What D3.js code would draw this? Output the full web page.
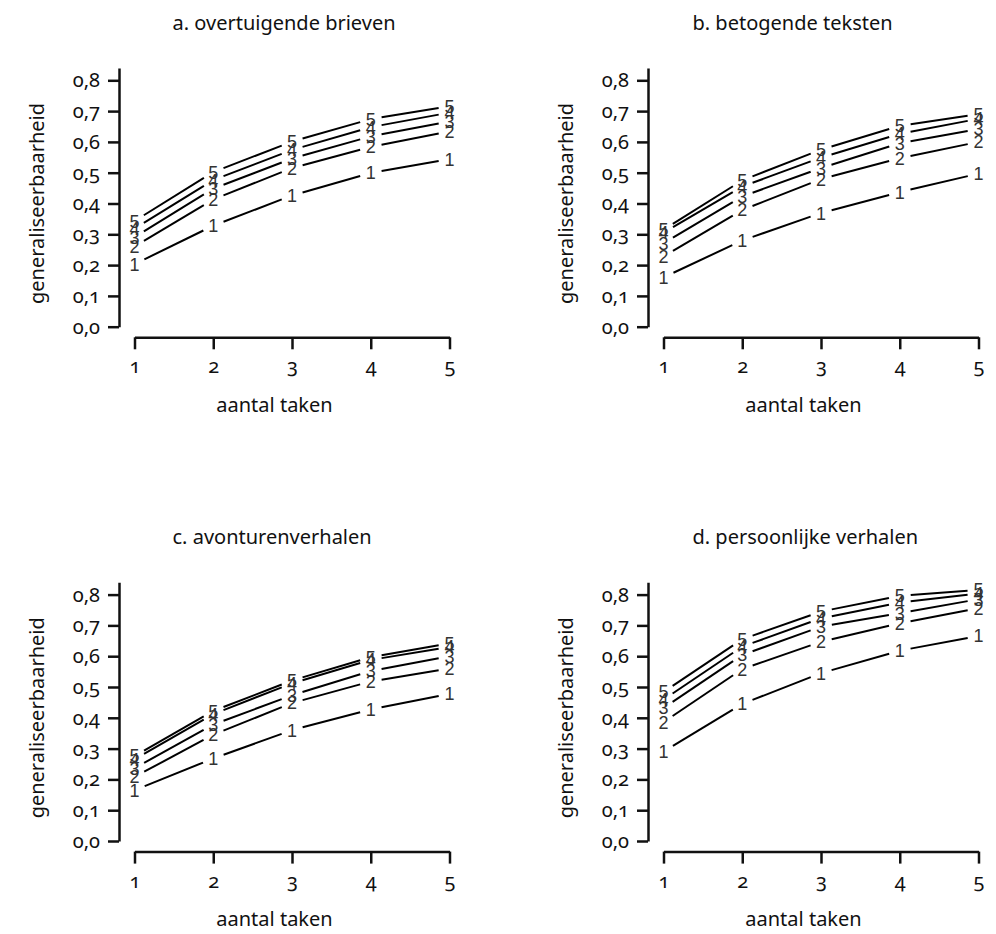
<!DOCTYPE html>
<html>
<head>
<meta charset="utf-8">
<script src="https://cdn.jsdelivr.net/npm/d3@7"></script>
<style>
    body { margin: 0; background: #fff; }
    svg { display: block; }
</style>
</head>
<body>
<script>
// aantal taken (x) en aantal beoordelaars (de cijfers bij de punten)
const taken = [1, 2, 3, 4, 5];
const beoordelaars = ["1", "2", "3", "4", "5"];
const titels = ["a. overtuigende brieven", "b. betogende teksten", "c. avonturenverhalen", "d. persoonlijke verhalen"];
const yTicks = [0, 0.1, 0.2, 0.3, 0.4, 0.5, 0.6, 0.7, 0.8];
const yTickLabels = ["0,0", "0,1", "0,2", "0,3", "0,4", "0,5", "0,6", "0,7", "0,8"];
const xTickLabels = ["1", "2", "3", "4", "5"];

// generaliseerbaarheid per aantal beoordelaars (rij) en aantal taken (kolom)
const brieven = [
    [0.203, 0.328, 0.426, 0.499, 0.544],
    [0.260, 0.413, 0.515, 0.584, 0.634],
    [0.291, 0.448, 0.546, 0.618, 0.666],
    [0.318, 0.476, 0.574, 0.648, 0.695],
    [0.343, 0.502, 0.601, 0.674, 0.716]
];
const betogend = [
    [0.160, 0.280, 0.369, 0.437, 0.497],
    [0.228, 0.379, 0.479, 0.547, 0.600],
    [0.271, 0.423, 0.515, 0.596, 0.642],
    [0.305, 0.455, 0.549, 0.626, 0.675],
    [0.315, 0.475, 0.575, 0.652, 0.690]
];
const avontuur = [
    [0.165, 0.268, 0.360, 0.427, 0.478],
    [0.208, 0.345, 0.448, 0.518, 0.560],
    [0.236, 0.378, 0.473, 0.552, 0.600],
    [0.265, 0.412, 0.512, 0.588, 0.630],
    [0.276, 0.422, 0.521, 0.597, 0.642]
];
const persoonlijk = [
    [0.290, 0.445, 0.545, 0.618, 0.666],
    [0.386, 0.558, 0.647, 0.707, 0.756],
    [0.432, 0.604, 0.696, 0.740, 0.785],
    [0.459, 0.631, 0.723, 0.774, 0.804],
    [0.484, 0.655, 0.745, 0.796, 0.815]
];

const panels = [brieven, betogend, avontuur, persoonlijk];

const FONT = "'Noto Sans', 'Open Sans', sans-serif";
const svg = d3.select("body").append("svg")
    .attr("width", 996)
    .attr("height", 934);

const colX = [119, 648];      // y-as positie per kolom
const rowY = [326.7, 841];    // y(0) per rij
const titleX = [172.5, 692.5];
const gap = 11;               // ruimte rond de cijfers (type "b")

panels.forEach((data, p) => {
    const col = p % 2, row = Math.floor(p / 2);
    const ax = colX[col], y0 = rowY[row];

    const x = d3.scaleLinear().domain([1, 5]).range([ax + 15.5, ax + 15.5 + 315]);
    const y = d3.scaleLinear().domain([0, 0.84]).range([y0, y0 - 0.84 * 308]);

    const g = svg.append("g");

    // y-as
    const yAxisG = g.append("g")
        .attr("transform", `translate(${ax},0)`)
        .call(d3.axisLeft(y)
            .tickValues(yTicks)
            .tickSize(11)
            .tickSizeOuter(0)
            .tickPadding(8)
            .tickFormat((d, i) => yTickLabels[i]));

    // x-as, iets onder de y-as
    const xAxisG = g.append("g")
        .attr("transform", `translate(0,${y0 + 10.6})`)
        .call(d3.axisBottom(x)
            .tickValues(taken)
            .tickSize(12)
            .tickSizeOuter(0)
            .tickPadding(10)
            .tickFormat((d, i) => xTickLabels[i]));

    [yAxisG, xAxisG].forEach(a => {
        a.attr("font-family", FONT).attr("font-size", 20);
        a.selectAll("path, line").attr("stroke", "#111").attr("stroke-width", 2.5);
        a.selectAll("text")
            .attr("fill", "#111")
            .style("font-variant-numeric", "oldstyle-nums")
            .style("font-feature-settings", "'onum' 1");
    });

    // titel
    g.append("text")
        .attr("x", titleX[col])
        .attr("y", y0 - 296.7)
        .attr("font-family", FONT)
        .attr("font-size", 20)
        .attr("fill", "#111")
        .text(titels[p]);

    // aslabels
    g.append("text")
        .attr("x", ax + 155.5)
        .attr("y", y0 + 85)
        .attr("text-anchor", "middle")
        .attr("font-family", FONT)
        .attr("font-size", 20)
        .attr("fill", "#111")
        .text("aantal taken");

    g.append("text")
        .attr("transform", `translate(${ax - 75},${(y(0) + y(0.8)) / 2}) rotate(-90)`)
        .attr("text-anchor", "middle")
        .attr("font-family", FONT)
        .attr("font-size", 20)
        .attr("fill", "#111")
        .text("generaliseerbaarheid");

    // lijnen met onderbrekingen rond de punten
    data.forEach((vals, s) => {
        const pts = vals.map((v, i) => [x(taken[i]), y(v)]);
        const seg = g.append("g").attr("stroke", "#000").attr("stroke-width", 2);
        for (let i = 0; i < pts.length - 1; i++) {
            const [x1, y1] = pts[i], [x2, y2] = pts[i + 1];
            const len = Math.hypot(x2 - x1, y2 - y1);
            if (len <= 2 * gap) continue;
            const ux = (x2 - x1) / len, uy = (y2 - y1) / len;
            seg.append("line")
                .attr("x1", x1 + ux * gap).attr("y1", y1 + uy * gap)
                .attr("x2", x2 - ux * gap).attr("y2", y2 - uy * gap);
        }
        g.append("g").selectAll("text")
            .data(pts)
            .join("text")
            .attr("x", d => d[0])
            .attr("y", d => d[1])
            .attr("dy", "0.36em")
            .attr("text-anchor", "middle")
            .attr("font-family", "'Liberation Sans', Arial, sans-serif")
            .attr("font-size", 18)
            .attr("fill", "#333")
            .text(beoordelaars[s]);
    });
});
</script>
</body>
</html>
